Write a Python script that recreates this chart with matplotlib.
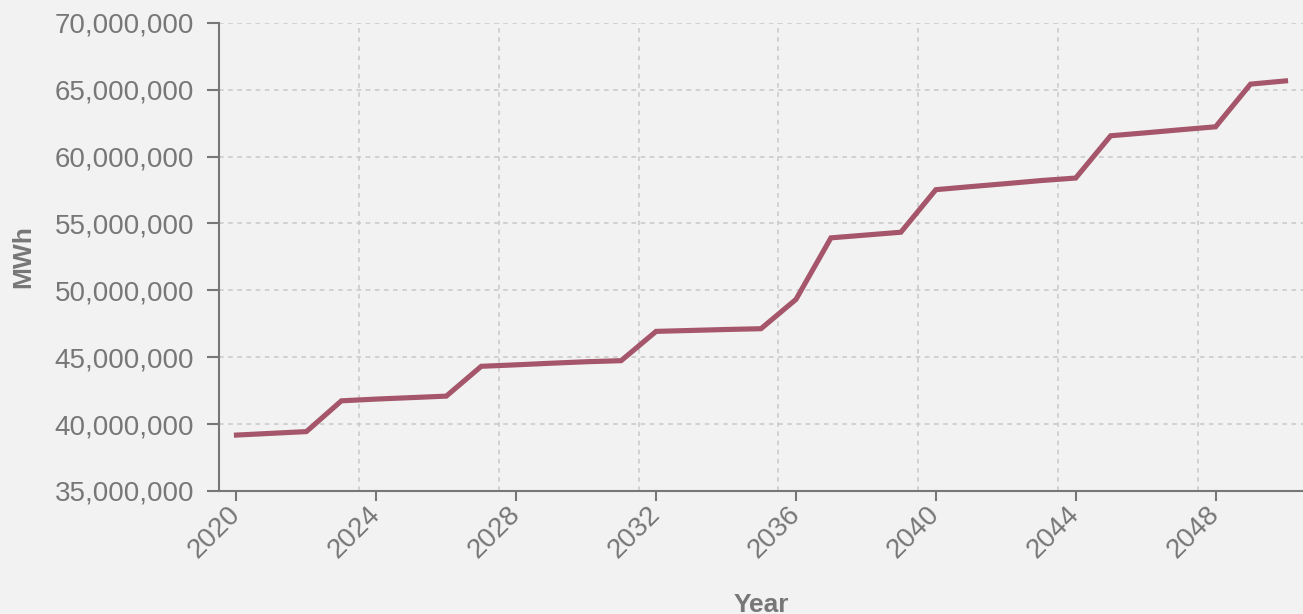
import matplotlib
matplotlib.use("Agg")
import matplotlib.pyplot as plt
from matplotlib.ticker import FuncFormatter, FixedLocator

# yearly energy, MWh
years = list(range(2020, 2051))
mwh = [
    39.18e6, 39.31e6, 39.44e6, 41.74e6, 41.87e6, 41.98e6, 42.09e6,
    44.32e6, 44.43e6, 44.55e6, 44.66e6, 44.74e6, 46.93e6, 47.00e6,
    47.07e6, 47.13e6, 49.32e6, 53.92e6, 54.13e6, 54.34e6, 57.52e6,
    57.75e6, 57.97e6, 58.20e6, 58.39e6, 61.55e6, 61.77e6, 62.00e6,
    62.22e6, 65.41e6, 65.65e6,
]
xticks = [2020, 2024, 2028, 2032, 2036, 2040, 2044, 2048]
xgrid = [2023.5, 2027.5, 2031.5, 2035.5, 2039.5, 2043.5, 2047.5]
yticks = [35e6, 40e6, 45e6, 50e6, 55e6, 60e6, 65e6, 70e6]

bg = "#f2f2f2"
grey = "#777777"

plt.rcParams["font.family"] = ["Liberation Sans", "DejaVu Sans"]

fig = plt.figure(figsize=(13.03, 6.14), dpi=100, facecolor=bg)
ax = fig.add_axes([219 / 1303, 1 - 491 / 614, 1 - 219 / 1303, (491 - 22.7) / 614])
ax.set_facecolor(bg)

ax.plot(years, mwh, color="#a5566a", linewidth=3.7, solid_joinstyle="miter", zorder=3)

ax.set_xlim(2019.5, 2050.5)
ax.set_ylim(35e6, 70e6)
ax.set_xticks(xticks)
ax.set_yticks(yticks)
ax.xaxis.set_minor_locator(FixedLocator(xgrid))
ax.yaxis.set_major_formatter(FuncFormatter(lambda v, p: f"{int(v):,}"))

for s in ["top", "right"]:
    ax.spines[s].set_visible(False)
for s in ["left", "bottom"]:
    ax.spines[s].set_color(grey)
    ax.spines[s].set_linewidth(1.5)

ax.tick_params(axis="y", colors=grey, labelsize=20, length=9, width=1.5, pad=9)
ax.tick_params(axis="x", colors=grey, labelsize=20, length=7, width=1.5, pad=7)
ax.tick_params(axis="x", which="minor", length=0)
for lab in ax.get_xticklabels():
    lab.set_rotation(45)
    lab.set_ha("right")
    lab.set_va("center")
    lab.set_rotation_mode("anchor")

ax.grid(True, axis="y", which="major", color="#c8c8c8", linestyle=(0, (3, 3)), linewidth=1.1)
ax.grid(True, axis="x", which="minor", color="#c8c8c8", linestyle=(0, (3, 3)), linewidth=1.1)
ax.set_axisbelow(True)

ax.set_xlabel("Year", fontsize=19, fontweight="bold", color=grey, labelpad=21)
ax.set_ylabel("MWh", fontsize=19, fontweight="bold", color=grey, labelpad=14)

fig.savefig("out.png", dpi=100, facecolor=bg)
